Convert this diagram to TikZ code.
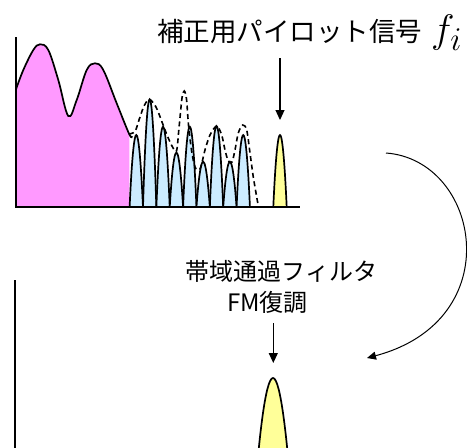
\documentclass[tikz,border=0pt]{standalone}
\usepackage{graphicx}
\usepackage{fontspec}
\newfontfamily\jp{Noto Sans CJK JP}
\usetikzlibrary{arrows.meta}
\definecolor{pinkfill}{HTML}{FF99FF}
\definecolor{bluefill}{HTML}{CCECFF}
\definecolor{yellowfill}{HTML}{FFFF99}
\begin{document}
\begin{tikzpicture}[x=1pt,y=-1pt,
  axis/.style={line width=2.2pt},
  peakline/.style={line width=1.7pt},
  envelope/.style={line width=1.6pt, dash pattern=on 5pt off 3.5pt},
  pointer/.style={line width=1.2pt, -{Triangle[length=10pt,width=9pt]}},
  curvearrow/.style={line width=1pt, -{Triangle[length=9pt,width=8pt]}},
  txt/.style={inner sep=0pt}]
\useasboundingbox (0,0) rectangle (467,448);

% ---------- top panel ----------
% pink baseband
\fill[pinkfill] (16,207) -- plot[smooth, tension=0.6] coordinates {(16,89.3) (23.3,70) (33.3,50) (40,44.3) (48.3,50) (58.3,80) (68.3,116) (76.7,100) (86.7,70) (95,63.3) (103.3,70) (116.7,103.3) (129.3,134.3)} -- (129.3,207) -- cycle;
\draw[peakline] plot[smooth, tension=0.6] coordinates {(16,89.3) (23.3,70) (33.3,50) (40,44.3) (48.3,50) (58.3,80) (68.3,116) (76.7,100) (86.7,70) (95,63.3) (103.3,70) (116.7,103.3) (129.3,134.3) (132,136)};

% blue peaks
\foreach \i/\t in {0/135,1/99.3,2/126.7,3/152.5,4/126.7,5/161.7,6/126,7/161.7,8/135}{
  \pgfmathsetmacro\c{136.3+13.37*\i}
  \filldraw[fill=bluefill, peakline] ({\c-6.68},207) parabola bend (\c,\t) ({\c+6.68},207);
}

% yellow pilot
\filldraw[fill=yellowfill, peakline] (273.3,207) parabola bend (280,135) (286.7,207);

% dashed envelope
\draw[envelope] plot[smooth, tension=0.5] coordinates {(129,134) (135,131.5) (139,120) (144,106) (149.3,99.3) (156,107) (162,122) (167,135) (172,146) (176.5,151) (179,128) (182,98) (184.3,91) (186.5,99) (188.5,125) (191.5,150) (195,167) (200,169) (205,150) (210,135) (216.7,126) (221.7,135) (225,150) (228.3,161) (232,162) (235,150) (238.3,133) (242.7,125) (246.7,130) (250,153) (253.3,177) (256.7,197) (258.3,206)};

% axes
\draw[axis] (16,37) -- (16,207) -- (300,207);

% label and pointer
\node[txt, anchor=base west, font=\jp\fontsize{26.5}{30}\selectfont] (pilot) at (157,41) {補正用パイロット信号};
\node[txt, anchor=base west] (fi) at (431,42) {\scalebox{1.6}{\Huge$f_i$}};
\coordinate (p1s) at (280,58);
\coordinate (p1e) at (280,120);
\draw[pointer] (p1s) -- (p1e);

% curved arrow
\coordinate (cs) at (386,153);
\coordinate (ce) at (367,358);
\draw[curvearrow] (cs) .. controls (480,160) and (510,320) .. (ce);

% ---------- bottom panel ----------
\node[txt, anchor=base, font=\jp\fontsize{24}{28}\selectfont] (bpf) at (281.7,280.5) {帯域通過フィルタ};
\node[txt, anchor=base, font=\jp\fontsize{24}{28}\selectfont] (fm) at (267.5,311) {FM復調};
\coordinate (p2s) at (273.3,323);
\coordinate (p2e) at (273.3,363);
\draw[pointer] (p2s) -- (p2e);

\begin{scope}
  \clip (0,0) rectangle (467,448);
  \filldraw[fill=yellowfill, peakline] (257.5,462) parabola bend (273,378) (288.5,462);
  \draw[axis] (15,280) -- (15,450);
\end{scope}
\end{tikzpicture}
\end{document}
